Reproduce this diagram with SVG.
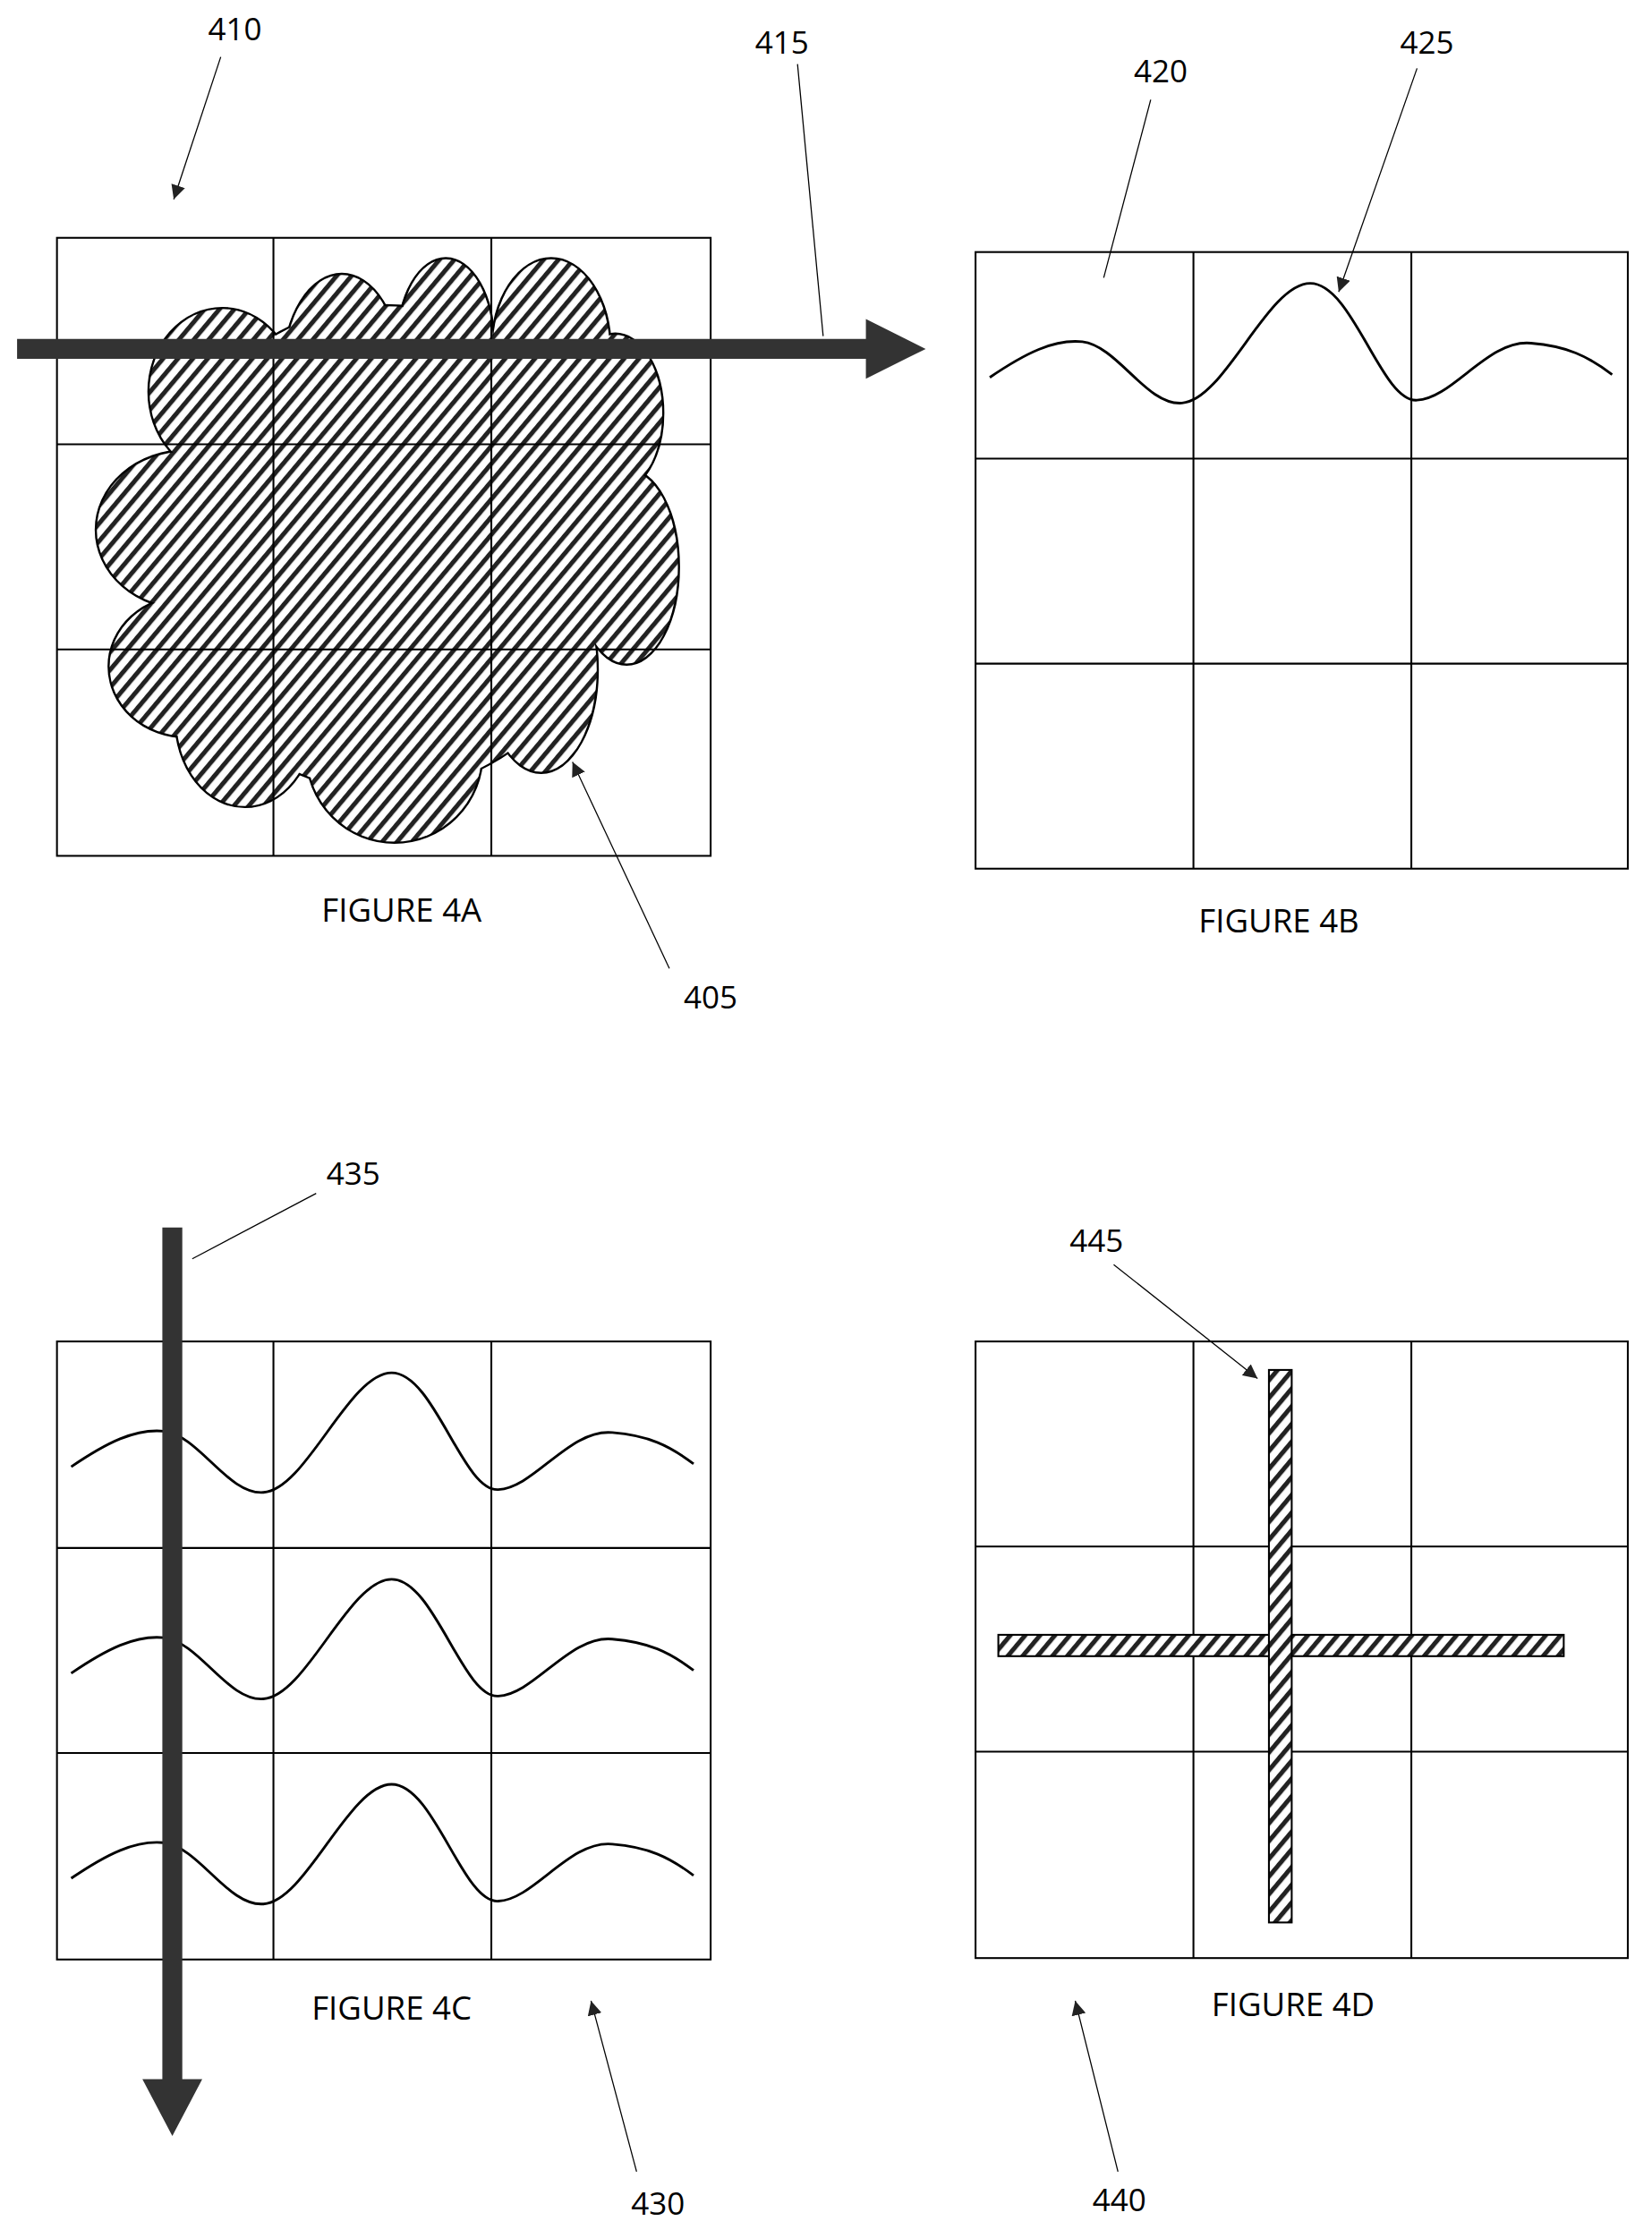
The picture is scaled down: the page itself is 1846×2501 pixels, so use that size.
<svg xmlns="http://www.w3.org/2000/svg" width="1846" height="2501" viewBox="0 0 1846 2501">
<defs>
<style>
.g{fill:none;stroke:#000;stroke-width:1.3}
.w{fill:none;stroke:#000;stroke-width:1.8}
.l{fill:none;stroke:#000;stroke-width:0.8}
.t{font-family:"Open Sans","Liberation Sans",sans-serif;font-size:22px;fill:#000;text-anchor:middle}
.c{font-size:23px}
.ha{fill:url(#hatch)}
</style>
<pattern id="hatch" patternUnits="userSpaceOnUse" width="8" height="8" patternTransform="rotate(40)">
<rect width="8" height="8" fill="#fff"/>
<rect x="0" y="0" width="3.2" height="8" fill="#222"/>
</pattern>
<marker id="ah" viewBox="0 0 10 10" refX="10" refY="5" markerWidth="10" markerHeight="10" markerUnits="userSpaceOnUse" orient="auto">
<path d="M0,0 L10,5 L0,10 z" fill="#222"/>
</marker>
<path id="wave" d="M695,265 C720,248 740,238 760,240 C785,243 805,285 830,283 C860,281 890,199 920,199 C950,199 970,283 995,281 C1020,280 1045,238 1075,241 C1100,243 1115,250 1132,263"/>
</defs>
<g transform="scale(1.5914)">
<g id="fig4a">
<g id="cloud">
<g stroke="#000" stroke-width="3" fill="#000">
<ellipse cx="270" cy="385" rx="160" ry="170"/>
<ellipse cx="156" cy="275" rx="51" ry="58"/>
<ellipse cx="240" cy="258" rx="40" ry="65"/>
<ellipse cx="313" cy="240" rx="33" ry="58"/>
<ellipse cx="387" cy="245" rx="41" ry="63"/>
<ellipse cx="432" cy="290" rx="33" ry="55"/>
<ellipse cx="440" cy="398" rx="36" ry="68"/>
<ellipse cx="380" cy="470" rx="39" ry="72"/>
<ellipse cx="277" cy="530" rx="61" ry="61"/>
<ellipse cx="172" cy="506" rx="48" ry="60"/>
<ellipse cx="131" cy="372" rx="63" ry="55"/>
<ellipse cx="131" cy="468" rx="54" ry="49"/>
</g>
<g class="ha">
<ellipse cx="270" cy="385" rx="160" ry="170"/>
<ellipse cx="156" cy="275" rx="51" ry="58"/>
<ellipse cx="240" cy="258" rx="40" ry="65"/>
<ellipse cx="313" cy="240" rx="33" ry="58"/>
<ellipse cx="387" cy="245" rx="41" ry="63"/>
<ellipse cx="432" cy="290" rx="33" ry="55"/>
<ellipse cx="440" cy="398" rx="36" ry="68"/>
<ellipse cx="380" cy="470" rx="39" ry="72"/>
<ellipse cx="277" cy="530" rx="61" ry="61"/>
<ellipse cx="172" cy="506" rx="48" ry="60"/>
<ellipse cx="131" cy="372" rx="63" ry="55"/>
<ellipse cx="131" cy="468" rx="54" ry="49"/>
</g>
</g>
<rect class="g" x="40" y="167" width="459" height="434"/>
<path class="g" d="M192,167V601M345,167V601M40,312H499M40,456H499"/>
<path id="arrow415" d="M12,238 H608 V224 L650,245 L608,266 V252 H12 z" fill="#333"/>
<text class="t c" x="282" y="647">FIGURE 4A</text>
</g>
<g id="fig4b">
<rect class="g" x="685" y="177" width="458" height="433"/>
<path class="g" d="M838,177V610M991,177V610M685,322H1143M685,466H1143"/>
<use href="#wave" class="w"/>
<text class="t c" x="898" y="655">FIGURE 4B</text>
</g>
<g id="fig4c">
<rect class="g" x="40" y="942" width="459" height="434"/>
<path class="g" d="M192,942V1376M345,942V1376M40,1087H499M40,1231H499"/>
<use href="#wave" class="w" transform="translate(-645,765)"/>
<use href="#wave" class="w" transform="translate(-645,910)"/>
<use href="#wave" class="w" transform="translate(-645,1054)"/>
<path id="arrow435" d="M114,862 H128 V1460 H142 L121,1500 L100,1460 H114 z" fill="#333"/>
<text class="t c" x="275" y="1418">FIGURE 4C</text>
</g>
<g id="fig4d">
<rect class="g" x="685" y="942" width="458" height="433"/>
<path class="g" d="M838,942V1375M991,942V1375M685,1086H1143M685,1230H1143"/>
<rect class="ha" stroke="#000" stroke-width="1.3" x="701" y="1148" width="397" height="15"/>
<rect class="ha" stroke="#000" stroke-width="1.3" x="891" y="962" width="16" height="388"/>
<text class="t c" x="908" y="1416">FIGURE 4D</text>
</g>
<g id="connectors">
<path class="l" d="M155,40 L122,140" marker-end="url(#ah)"/>
<path class="l" d="M560,45 L578,236"/>
<path class="l" d="M470,680 L402,535" marker-end="url(#ah)"/>
<path class="l" d="M808,70 L775,195"/>
<path class="l" d="M995,48 L940,205" marker-end="url(#ah)"/>
<path class="l" d="M222,838 L135,884"/>
<path class="l" d="M447,1525 L415,1405" marker-end="url(#ah)"/>
<path class="l" d="M782,888 L883,968" marker-end="url(#ah)"/>
<path class="l" d="M785,1525 L755,1405" marker-end="url(#ah)"/>
</g>
<g id="labels">
<text class="t" x="165" y="28">410</text>
<text class="t" x="549" y="38">415</text>
<text class="t" x="815" y="58">420</text>
<text class="t" x="1002" y="38">425</text>
<text class="t" x="499" y="708">405</text>
<text class="t" x="248" y="832">435</text>
<text class="t" x="770" y="879">445</text>
<text class="t" x="462" y="1555">430</text>
<text class="t" x="786" y="1553">440</text>
</g>
</g>
</svg>
